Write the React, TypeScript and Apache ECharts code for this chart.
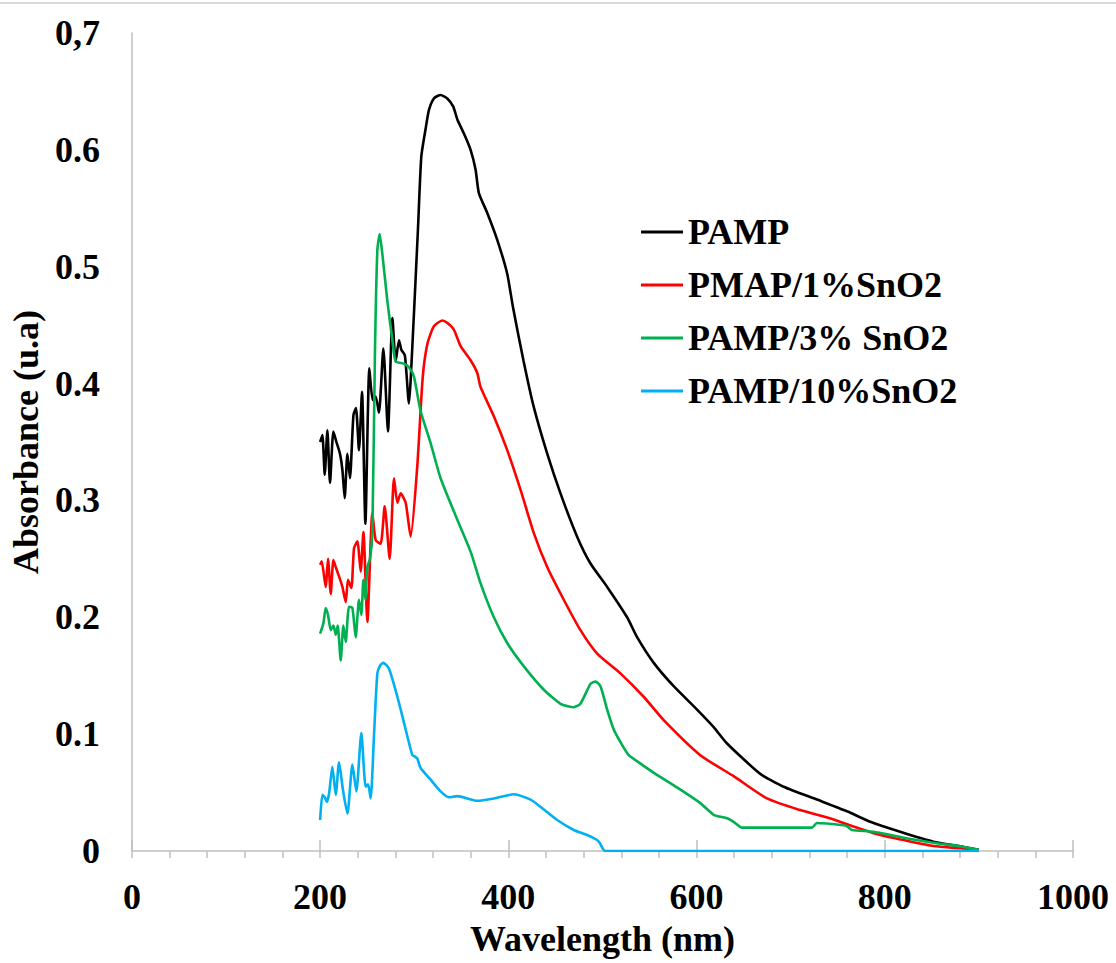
import React, { useEffect, useRef } from "react";
import * as echarts from "echarts";

const seriesNames = ["PAMP", "PMAP/1%SnO2", "PAMP/3% SnO2", "PAMP/10%SnO2"];
const seriesColors = ["#000000", "#FF0000", "#00B050", "#00B0F0"];
const yTickLabels = ["0", "0.1", "0.2", "0.3", "0.4", "0.5", "0.6", "0,7"];
const xTickLabels = ["0", "200", "400", "600", "800", "1000"];

const pampData: [number, number][] = [
  [200, 0.35], [202.4, 0.356], [204.9, 0.322], [207.7, 0.36], [210.5, 0.315], [214.1, 0.359],
  [217.3, 0.35], [221.1, 0.34], [223.7, 0.326], [226.1, 0.302], [229, 0.34], [231.7, 0.319],
  [235.4, 0.373], [238.1, 0.379], [241.3, 0.343], [244.5, 0.393], [248.1, 0.28], [252.3, 0.413],
  [255.8, 0.386], [259, 0.389], [262.5, 0.375], [267.2, 0.43], [272.1, 0.359], [276.8, 0.456],
  [280.3, 0.419], [283.8, 0.437], [286.3, 0.429], [290.1, 0.424], [294.4, 0.383], [296.2, 0.403],
  [299.7, 0.46], [303.9, 0.531], [307.5, 0.594], [312.1, 0.618], [315.6, 0.634], [320.9, 0.644],
  [328, 0.647], [335.1, 0.644], [341.5, 0.637], [345.8, 0.626], [352.8, 0.614], [359.9, 0.6],
  [365.2, 0.583], [368.7, 0.563], [377.6, 0.546], [388.2, 0.523], [398.8, 0.494], [405, 0.465],
  [416, 0.42], [427, 0.38], [441.3, 0.34], [455.4, 0.306], [473.1, 0.269], [487.3, 0.246],
  [505, 0.226], [526.2, 0.2], [536.8, 0.183], [554.5, 0.161], [575.7, 0.141], [600.5, 0.121],
  [618.2, 0.106], [632.4, 0.092], [667.7, 0.066], [692.5, 0.055], [727.9, 0.044], [759.8, 0.034],
  [784.5, 0.025], [816.3, 0.0165], [851.7, 0.008], [880, 0.004], [900, 0.001],
];

const pmap1Data: [number, number][] = [
  [200, 0.245], [201.7, 0.248], [205.9, 0.226], [208.4, 0.25], [211.3, 0.22], [214.1, 0.249],
  [216.6, 0.243], [220.1, 0.235], [223.7, 0.226], [227.2, 0.213], [229.6, 0.232], [233.2, 0.225],
  [236, 0.259], [239.6, 0.265], [243.1, 0.239], [246, 0.273], [250.2, 0.196], [255.5, 0.289],
  [259, 0.266], [264.3, 0.263], [268.6, 0.295], [273.9, 0.25], [278.5, 0.319], [282.1, 0.298],
  [285.6, 0.306], [290.9, 0.298], [296.2, 0.269], [303.3, 0.33], [309, 0.405], [314, 0.434],
  [320.9, 0.449], [329.8, 0.454], [335, 0.452], [342.2, 0.446], [349.3, 0.432], [359.9, 0.42],
  [367, 0.409], [370.5, 0.397], [384.6, 0.372], [398.8, 0.343], [413, 0.309], [427.1, 0.272],
  [441.3, 0.243], [458.9, 0.215], [476.6, 0.189], [494.4, 0.169], [519.1, 0.152], [543.8, 0.132],
  [565.1, 0.112], [604, 0.082], [639.4, 0.064], [674.8, 0.045], [710.2, 0.035], [745.6, 0.027],
  [766.8, 0.021], [795.1, 0.0137], [823.4, 0.0088], [851.7, 0.0043], [880, 0.0023], [900, 0.001],
];

const pamp3Data: [number, number][] = [
  [200, 0.186], [203.5, 0.195], [205.9, 0.208], [208.4, 0.202], [211.3, 0.189], [214.1, 0.193],
  [216.6, 0.185], [218.7, 0.193], [221.9, 0.163], [224.7, 0.193], [227.2, 0.179], [230.7, 0.209],
  [234.3, 0.208], [237.8, 0.183], [241.3, 0.215], [243.8, 0.202], [246, 0.232], [248.1, 0.215],
  [250.2, 0.243], [253, 0.25], [255.5, 0.272], [258.3, 0.429], [260.8, 0.514], [263.3, 0.528],
  [266.1, 0.511], [271.4, 0.471], [276.8, 0.437], [280.3, 0.419], [289.1, 0.417], [294.4, 0.414],
  [299.7, 0.406], [306.6, 0.377], [317.4, 0.349], [328, 0.319], [345, 0.285], [360, 0.256],
  [370.5, 0.229], [384.6, 0.2], [398.8, 0.178], [416.5, 0.158], [437.7, 0.138], [455.4, 0.126],
  [469.5, 0.123], [476.6, 0.126], [487.3, 0.143], [492.6, 0.145], [497.9, 0.141], [505, 0.121],
  [512, 0.104], [520, 0.092], [528, 0.082], [540, 0.075], [560, 0.064], [580, 0.054], [604, 0.041],
  [618.2, 0.031], [632.4, 0.028], [639.4, 0.025], [648.3, 0.02], [722.6, 0.02], [727.9, 0.024],
  [756.2, 0.022], [760, 0.021], [765, 0.018], [788, 0.0165], [816.3, 0.012], [851.7, 0.007],
  [880, 0.004], [900, 0.001],
];

const pamp10Data: [number, number][] = [
  [200, 0.0265], [202.4, 0.048], [205, 0.046], [207, 0.042], [209.5, 0.049], [213, 0.072],
  [216.6, 0.048], [220.1, 0.076], [224.3, 0.052], [229, 0.032], [234.3, 0.074], [238.5, 0.051],
  [243.8, 0.101], [248.4, 0.055], [251, 0.057], [253.7, 0.045], [257.2, 0.098], [260.8, 0.152],
  [264, 0.159], [267.2, 0.161], [273.2, 0.156], [282.1, 0.132], [290.9, 0.104], [298, 0.082],
  [300.5, 0.081], [303.3, 0.079], [306.8, 0.071], [317.4, 0.061], [328, 0.051], [336.8, 0.046],
  [345.7, 0.047], [367, 0.043], [384.6, 0.045], [405.8, 0.0485], [423.6, 0.044], [437, 0.036],
  [451.9, 0.0265], [469.5, 0.018], [483.7, 0.0137], [494.4, 0.0094], [497, 0.007], [503, 0],
  [900, 0],
];

const allData = [pampData, pmap1Data, pamp3Data, pamp10Data];

const FONT = "'Liberation Serif', 'Times New Roman', serif";
const AXIS_GRAY = "#BFBFBF";
const FS = 36;

export default function App() {
  const ref = useRef<HTMLDivElement>(null);
  useEffect(() => {
    if (!ref.current) return;
    const chart = echarts.init(ref.current, undefined, { renderer: "svg" });
    chart.setOption({
      animation: false,
      backgroundColor: "#ffffff",
      grid: { left: 131, right: 43, top: 33, bottom: 112, containLabel: false },
      graphic: [
        {
          type: "line",
          shape: { x1: 0, y1: 3, x2: 1116, y2: 3 },
          style: { stroke: "#D9D9D9", lineWidth: 2 },
        },
      ],
      legend: {
        orient: "vertical",
        left: 636,
        top: 209,
        icon: "rect",
        itemWidth: 42,
        itemHeight: 3,
        itemGap: 17,
        data: seriesNames,
        textStyle: { fontFamily: FONT, fontWeight: "bold", fontSize: FS, color: "#000" },
      },
      xAxis: [
        {
          type: "value",
          min: 0,
          max: 1000,
          interval: 200,
          name: "Wavelength (nm)",
          nameLocation: "middle",
          nameGap: 70,
          nameTextStyle: { fontFamily: FONT, fontWeight: "bold", fontSize: FS, color: "#000" },
          axisLine: { show: true, lineStyle: { color: AXIS_GRAY, width: 1.5 } },
          axisTick: { show: true, inside: false, length: 7, lineStyle: { color: AXIS_GRAY, width: 1.5 } },
          minorTick: { show: true, splitNumber: 5, length: 7, lineStyle: { color: AXIS_GRAY, width: 1.5 } },
          splitLine: { show: false },
          minorSplitLine: { show: false },
          axisLabel: {
            margin: 28,
            fontFamily: FONT,
            fontWeight: "bold",
            fontSize: FS,
            color: "#000",
            formatter: (v: number) => xTickLabels[Math.round(v / 200)] ?? String(v),
          },
        },
        {
          type: "value",
          position: "bottom",
          min: 0,
          max: 1000,
          interval: 200,
          axisLine: { show: false },
          axisTick: { show: true, inside: true, length: 11, lineStyle: { color: AXIS_GRAY, width: 1.5 } },
          axisLabel: { show: false },
          splitLine: { show: false },
        },
      ],
      yAxis: {
        type: "value",
        min: 0,
        max: 0.7,
        interval: 0.1,
        name: "Absorbance (u.a)",
        nameLocation: "middle",
        nameGap: 83,
        nameTextStyle: { fontFamily: FONT, fontWeight: "bold", fontSize: FS, color: "#000" },
        axisLine: { show: true, lineStyle: { color: AXIS_GRAY, width: 1.5 } },
        axisTick: { show: false },
        splitLine: { show: false },
        axisLabel: {
          margin: 32,
          fontFamily: FONT,
          fontWeight: "bold",
          fontSize: FS,
          color: "#000",
          formatter: (v: number) => yTickLabels[Math.round(v * 10)] ?? String(v),
        },
      },
      series: allData.map((d, i) => ({
        name: seriesNames[i],
        type: "line",
        xAxisIndex: 0,
        data: d,
        symbol: "none",
        smooth: 0.2,
        lineStyle: { color: seriesColors[i], width: 2.6 },
        itemStyle: { color: seriesColors[i] },
      })),
    });
    return () => chart.dispose();
  }, []);
  return (
    <div
      ref={ref}
      style={{ position: "fixed", left: 0, top: 0, width: 1116, height: 963, background: "#fff" }}
    />
  );
}
